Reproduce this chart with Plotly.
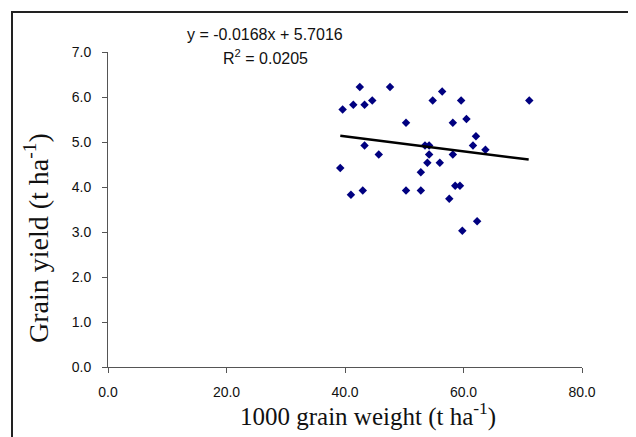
import plotly.graph_objects as go

# Data
grain_weight = [42.5, 47.6, 56.4, 39.6, 41.4, 43.3, 44.6, 54.8, 59.6, 71.1,
                50.3, 58.2, 60.5, 62.1, 53.5, 54.2, 61.6, 63.7, 43.3, 45.7,
                54.2, 58.2, 53.9, 56.0, 52.8, 39.2, 41.0, 43.0, 50.3, 52.8,
                58.6, 59.4, 57.6, 62.3, 59.8]
grain_yield = [6.22, 6.22, 6.12, 5.72, 5.83, 5.83, 5.92, 5.92, 5.92, 5.92,
               5.43, 5.43, 5.51, 5.13, 4.92, 4.92, 4.92, 4.83, 4.92, 4.72,
               4.72, 4.72, 4.54, 4.54, 4.33, 4.42, 3.83, 3.92, 3.92, 3.92,
               4.03, 4.03, 3.74, 3.24, 3.03]
trend_x = [39.2, 71.0]
trend_y = [5.14, 4.61]
equation_text = "y = -0.0168x + 5.7016"
r2_text = "R<sup>2</sup> = 0.0205"
x_title = "1000 grain weight (t ha<sup>-1</sup>)"
y_title = "Grain yield (t ha<sup>-1</sup>)"
x_ticks = [0, 20, 40, 60, 80]
y_ticks = [0, 1, 2, 3, 4, 5, 6, 7]

# page geometry (the page body adds an 8 px offset)
OFF = 8
W, H = 636 - OFF, 437 - OFF
X0, X1, Y0, Y1 = 108, 582, 367, 52   # plot area in page pixels
ML, MR, MT, MB = X0 - OFF, 636 - X1, Y1 - OFF, 437 - Y0

def px(x):
    return (x - X0) / (X1 - X0)

def py(y):
    return (Y0 - y) / (Y0 - Y1)

fig = go.Figure()
fig.add_trace(go.Scatter(x=grain_weight, y=grain_yield, mode="markers",
                         marker=dict(symbol="diamond", size=6.5, color="#000080"),
                         showlegend=False, cliponaxis=False))
fig.add_trace(go.Scatter(x=trend_x, y=trend_y, mode="lines",
                         line=dict(color="black", width=2.5),
                         showlegend=False))

axis_common = dict(showgrid=False, zeroline=False, showline=True,
                   linecolor="#555", linewidth=1, ticks="outside",
                   ticklen=5, tickcolor="#555", tickwidth=1,
                   tickfont=dict(family="Liberation Sans, Arial", size=14, color="#111"))
fig.update_xaxes(range=[0, 80], tickvals=x_ticks, ticklabelstandoff=7,
                 ticktext=[f"{v:.1f}" for v in x_ticks], **axis_common)
fig.update_yaxes(range=[0, 7], tickvals=y_ticks, ticklabelstandoff=8,
                 ticktext=[f"{v:.1f}" for v in y_ticks], **axis_common)

ann = dict(xref="paper", yref="paper", showarrow=False,
           xanchor="center", yanchor="middle")
fig.add_annotation(text=x_title, x=px(368), y=py(415),
                   font=dict(family="Liberation Serif, Times New Roman", size=25, color="#111"), **ann)
fig.add_annotation(text=y_title, x=px(36), y=py(238), textangle=-90,
                   font=dict(family="Liberation Serif, Times New Roman", size=28, color="#111"), **ann)
fig.add_annotation(text=equation_text, x=px(265), y=py(35),
                   font=dict(family="Liberation Sans, Arial", size=16, color="#111"), **ann)
fig.add_annotation(text=r2_text, x=px(265), y=py(57),
                   font=dict(family="Liberation Sans, Arial", size=16, color="#111"), **ann)

# Outer frame (top and left edges visible)
fig.add_shape(type="path", xref="paper", yref="paper",
              path=f"M {px(12)} {py(445)} L {px(12)} {py(12)} L {px(645)} {py(12)}",
              line=dict(color="#222", width=2))

fig.update_layout(width=W, height=H, margin=dict(l=ML, r=MR, t=MT, b=MB),
                  plot_bgcolor="white", paper_bgcolor="white")
fig.write_html("out.html")
